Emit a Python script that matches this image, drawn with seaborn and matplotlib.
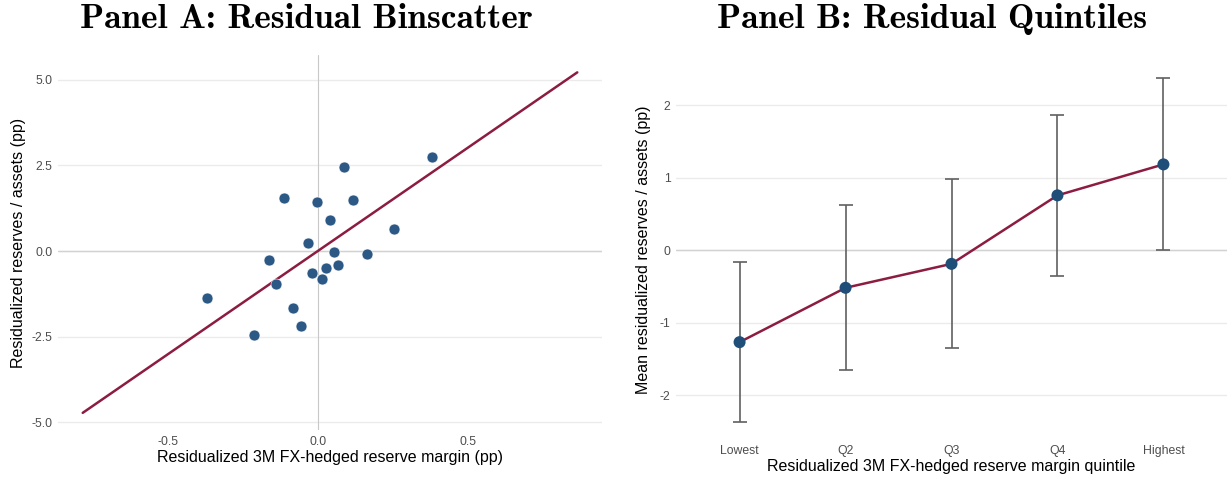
import numpy as np
import pandas as pd
import matplotlib
matplotlib.use("Agg")
import matplotlib.pyplot as plt
import seaborn as sns

# Panel A data: binscatter points
bin_x = [-0.370, -0.212, -0.165, -0.141, -0.114, -0.084, -0.057, -0.034, -0.020, -0.003,
         0.013, 0.027, 0.040, 0.054, 0.067, 0.088, 0.118, 0.162, 0.253, 0.380]
bin_y = [-1.37, -2.45, -0.26, -0.96, 1.55, -1.66, -2.19, 0.23, -0.64, 1.43,
         -0.82, -0.50, 0.90, -0.03, -0.41, 2.45, 1.49, -0.09, 0.64, 2.74]
fit_x = [-0.785, 0.865]
fit_intercept = 0.006
fit_slope = 6.02

# Panel B data: quintile means with CIs
quintiles = ["Lowest", "Q2", "Q3", "Q4", "Highest"]
q_mean = [-1.265, -0.516, -0.186, 0.758, 1.185]
q_lo = [-2.36, -1.65, -1.35, -0.35, 0.0]
q_hi = [-0.16, 0.62, 0.988, 1.86, 2.37]

sns.set_theme(style="white")
plt.rcParams['font.family'] = ['Liberation Sans', 'DejaVu Sans']

W, H = 1227, 480
fig = plt.figure(figsize=(W / 100, H / 100), dpi=100)

def ax_rect(l, t, r, b):
    return [l / W, 1 - b / H, (r - l) / W, (b - t) / H]

pt_blue = "#2c5885"
line_red = "#8c1d40"
grid_c = "#ebebeb"
tick_c = "#4d4d4d"

# ---------- Panel A ----------
axA = fig.add_axes(ax_rect(58, 55, 602, 430))
dfA = pd.DataFrame({"x": bin_x, "y": bin_y})
fx = np.array(fit_x)
dfL = pd.DataFrame({"x": fx, "y": fit_intercept + fit_slope * fx})
axA.axhline(0, color="#d2d2d2", lw=1.0, zorder=1)
axA.axvline(0, color="#c8c8c8", lw=0.8, zorder=1)
sns.lineplot(data=dfL, x="x", y="y", ax=axA, color=line_red, lw=1.8, zorder=3)
sns.scatterplot(data=dfA, x="x", y="y", ax=axA, color=pt_blue, s=62,
                edgecolor="white", linewidth=0.4, zorder=4)
axA.set_xlim(-0.8675, 0.9475)
axA.set_ylim(-5.22, 5.72)
axA.set_xticks([-0.5, 0.0, 0.5])
axA.set_xticklabels(["-0.5", "0.0", "0.5"])
axA.set_yticks([-5.0, -2.5, 0.0, 2.5, 5.0])
axA.set_yticklabels(["-5.0", "-2.5", "0.0", "2.5", "5.0"])
axA.yaxis.grid(True, color=grid_c, lw=1.0, zorder=0)
axA.set_axisbelow(True)
axA.set_xlabel("Residualized 3M FX-hedged reserve margin (pp)", fontsize=11.5, color="black", labelpad=2)
axA.set_ylabel("Residualized reserves / assets (pp)", fontsize=11.5, color="black", labelpad=4)
axA.tick_params(axis="both", labelsize=8.8, colors=tick_c, length=0, pad=4)
for s in axA.spines.values():
    s.set_visible(False)
fig.text(306 / W, 1 - 19 / H, "Panel A: Residual Binscatter", fontfamily="cmb10",
         fontsize=25.5, ha="center", va="center", color="black")

# ---------- Panel B ----------
axB = fig.add_axes(ax_rect(676, 61, 1227, 439))
pos = np.arange(1, 6)
dfB = pd.DataFrame({"pos": pos, "mean": q_mean, "lo": q_lo, "hi": q_hi})
axB.axhline(0, color="#d2d2d2", lw=1.0, zorder=1)
axB.errorbar(dfB["pos"], dfB["mean"],
             yerr=[dfB["mean"] - dfB["lo"], dfB["hi"] - dfB["mean"]],
             fmt="none", ecolor="#606060", elinewidth=1.2, capsize=5, capthick=1.2, zorder=2)
sns.lineplot(data=dfB, x="pos", y="mean", ax=axB, color=line_red, lw=1.8, zorder=3)
sns.scatterplot(data=dfB, x="pos", y="mean", ax=axB, color="#1f4e79", s=75,
                edgecolor="none", zorder=4)
axB.set_xlim(0.4, 5.6)
axB.set_ylim(-2.6, 2.61)
axB.set_xticks(pos)
axB.set_xticklabels(quintiles)
axB.set_yticks([-2, -1, 0, 1, 2])
axB.set_yticklabels(["-2", "-1", "0", "1", "2"])
axB.yaxis.grid(True, color=grid_c, lw=1.0, zorder=0)
axB.set_axisbelow(True)
axB.set_xlabel("Residualized 3M FX-hedged reserve margin quintile", fontsize=11.5, color="black", labelpad=2)
axB.set_ylabel("Mean residualized reserves / assets (pp)", fontsize=11.5, color="black", labelpad=6)
axB.tick_params(axis="both", labelsize=8.8, colors=tick_c, length=0, pad=4)
for s in axB.spines.values():
    s.set_visible(False)
fig.text(932 / W, 1 - 19 / H, "Panel B: Residual Quintiles", fontfamily="cmb10",
         fontsize=25.5, ha="center", va="center", color="black")

fig.savefig("out.png", dpi=100)
